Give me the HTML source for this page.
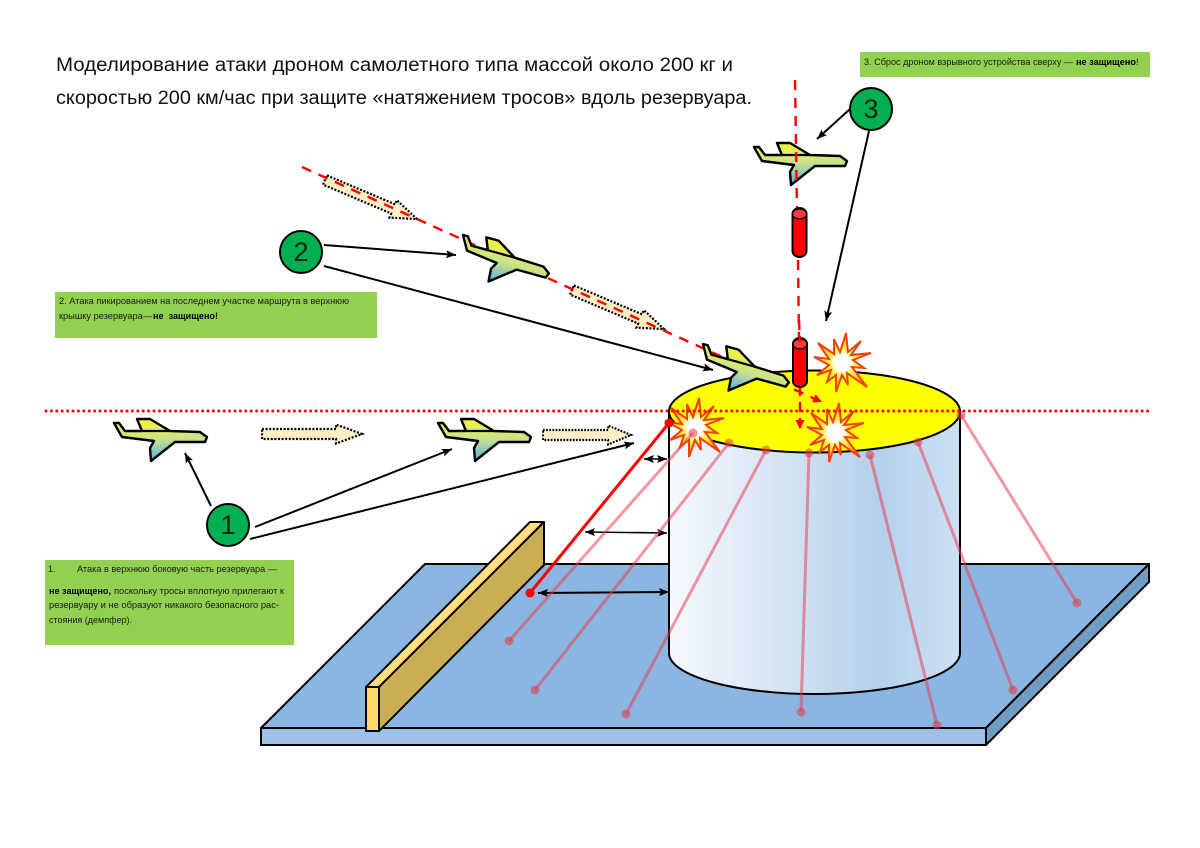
<!DOCTYPE html>
<html><head><meta charset="utf-8"><style>
html,body{margin:0;padding:0;background:#fff;width:1200px;height:848px;overflow:hidden}
svg{display:block}
text{font-family:"Liberation Sans",sans-serif}
.s{font-size:9px;fill:#1a1a1a}
.b{font-size:9px;fill:#000;font-weight:bold}
.t{font-size:19px;fill:#111}
.n{font-size:27px;fill:#0a2a14;text-anchor:middle}
</style></head><body>
<svg width="1200" height="848" viewBox="0 0 1200 848" xmlns="http://www.w3.org/2000/svg">
<defs>
<linearGradient id="pg" x1="0" y1="0" x2="0" y2="1"><stop offset="0" stop-color="#f5f534"/><stop offset=".3" stop-color="#dcea70"/><stop offset=".5" stop-color="#c4e090"/><stop offset=".75" stop-color="#88c8c0"/><stop offset="1" stop-color="#4eaee6"/></linearGradient>
<linearGradient id="cyl" x1="0" y1="0" x2="1" y2="0"><stop offset="0" stop-color="#f6f9fe"/><stop offset=".45" stop-color="#cfe0f2"/><stop offset=".72" stop-color="#b4d0ec"/><stop offset="1" stop-color="#cde0f3"/></linearGradient>
<radialGradient id="st"><stop offset="0" stop-color="#fff"/><stop offset=".27" stop-color="#fff"/><stop offset=".44" stop-color="#fff060"/><stop offset=".7" stop-color="#ffd020"/><stop offset="1" stop-color="#ff9a10"/></radialGradient>
<marker id="a" markerUnits="userSpaceOnUse" markerWidth="12" markerHeight="10" refX="10" refY="4" orient="auto"><path d="M0,0L10,4L0,8L2,4Z" fill="#000"/></marker>
<marker id="as" markerUnits="userSpaceOnUse" markerWidth="12" markerHeight="10" refX="0" refY="4" orient="auto"><path d="M10,0L0,4L10,8L8,4Z" fill="#000"/></marker>
<marker id="ar" markerUnits="userSpaceOnUse" markerWidth="12" markerHeight="12" refX="9" refY="4.5" orient="auto"><path d="M0,0L9,4.5L0,9Z" fill="#f00"/></marker>
<g id="plane"><path d="M0,4L5,4L11,12L28,12L23,0L36,0L56,12L86,13L93,18L91,23L61,23L37,42L36,29L40,22L8,18Z" fill="url(#pg)" stroke="#000" stroke-width="2.4" stroke-linejoin="round"/><path d="M28,12L56,12" stroke="#000" stroke-width="2.2"/></g>
<path id="star" d="M6,-30L8,-11L21,-22L11,-8L31,-10L13,-3L24,5L12,4L27,24L7,10L8,22L2,12L-4,29L-4,12L-13,19L-9,7L-23,12L-11,2L-26,-6L-11,-4L-22,-20L-6,-9L-6,-24L0,-11Z" fill="url(#st)" stroke="#f0420f" stroke-width="2" stroke-linejoin="miter"/>
<path id="da" d="M0,-5L74,-5L74,-9.5L100,0L74,9.5L74,5L0,5Z" fill="#fdeec6" stroke="#000" stroke-width="2.2" stroke-dasharray="2 1.6"/>
</defs>

<!-- platform -->
<path d="M425,564L1149,564L986,728L261,728Z" fill="#8ab6e1" stroke="#000" stroke-width="2" stroke-linejoin="round"/>
<path d="M261,728L986,728L986,745L261,745Z" fill="#9dc1e7" stroke="#000" stroke-width="2" stroke-linejoin="round"/>
<path d="M986,728L1149,564L1149,582L986,745Z" fill="#6f9dc6" stroke="#000" stroke-width="2" stroke-linejoin="round"/>

<!-- wall -->
<path d="M366,687L530,522L544,522L379,687Z" fill="#ffdf7e" stroke="#000" stroke-width="2" stroke-linejoin="round"/>
<path d="M379,687L544,522L544,565L379,731Z" fill="#cbae53" stroke="#000" stroke-width="2" stroke-linejoin="round"/>
<path d="M366,687L379,687L379,731L366,731Z" fill="#ffd966" stroke="#000" stroke-width="2" stroke-linejoin="round"/>

<!-- cylinder -->
<path d="M669,411.5L669,653A145.5,41 0 0 0 960,653L960,411.5Z" fill="url(#cyl)" stroke="#000" stroke-width="2"/>
<ellipse cx="814.5" cy="411.5" rx="145.5" ry="41" fill="#ff0" stroke="#000" stroke-width="2"/>

<!-- double arrows -->
<g stroke="#000" stroke-width="1.6" fill="none">
<path d="M644,459L667,459" marker-start="url(#as)" marker-end="url(#a)"/>
<path d="M585,532L667,533" marker-start="url(#as)" marker-end="url(#a)"/>
<path d="M538,593L669,592" marker-start="url(#as)" marker-end="url(#a)" stroke-width="2"/>
</g>

<!-- dotted arrows -->
<use href="#da" transform="translate(262,434)"/>
<use href="#da" transform="translate(543,435) scale(.88,1)"/>
<use href="#da" transform="translate(325,180) rotate(23)"/>
<use href="#da" transform="translate(572,290) rotate(23)"/>

<!-- diagonal red dashed -->
<path d="M302,167L822,402" stroke="#f00" stroke-width="2.4" stroke-dasharray="10 8" fill="none" marker-end="url(#ar)"/>

<!-- planes -->
<use href="#plane" transform="translate(114,419)"/>
<use href="#plane" transform="translate(438,419)"/>
<use href="#plane" transform="translate(754,143)"/>
<use href="#plane" transform="translate(463,235) rotate(15.5) translate(0,-4)"/>

<!-- stars -->
<use href="#star" transform="translate(840,363)"/>
<use href="#star" transform="translate(693,428)"/>
<use href="#star" transform="translate(833,433)"/>

<use href="#plane" transform="translate(703,344) rotate(15.5) translate(0,-4)"/>

<!-- pink tethers -->
<g stroke="#ea3a48" stroke-opacity=".52" stroke-width="3" fill="none">
<path d="M693,433L509,641"/><path d="M729,443L535,690"/><path d="M766,450L626,714"/><path d="M809,453L801,712"/><path d="M870,455L937,725"/><path d="M918,442L1013,690"/><path d="M961,415L1077,603"/>
</g>
<g fill="#e0384c" fill-opacity=".55">
<circle cx="693" cy="433" r="4.5"/><circle cx="729" cy="443" r="4.5"/><circle cx="766" cy="450" r="4.5"/><circle cx="809" cy="453" r="4.5"/><circle cx="870" cy="455" r="4.5"/><circle cx="918" cy="442" r="4.5"/><circle cx="961" cy="415" r="4.5"/>
<circle cx="509" cy="641" r="4.5"/><circle cx="535" cy="690" r="4.5"/><circle cx="626" cy="714" r="4.5"/><circle cx="801" cy="712" r="4.5"/><circle cx="937" cy="725" r="4.5"/><circle cx="1013" cy="690" r="4.5"/><circle cx="1077" cy="603" r="4.5"/>
</g>

<!-- red tether -->
<path d="M669,423L530,593" stroke="#f00" stroke-width="3"/>
<circle cx="669" cy="423" r="4.5" fill="#f00"/><circle cx="530" cy="593" r="4.5" fill="#f00"/>

<!-- vertical dashed -->
<path d="M795,80L797,210" stroke="#f00" stroke-width="2.4" stroke-dasharray="10 8" fill="none"/>
<path d="M798,260L799,340" stroke="#f00" stroke-width="2.4" stroke-dasharray="10 8" fill="none"/>
<path d="M800,386L800,429" stroke="#f00" stroke-width="2.4" stroke-dasharray="10 6" fill="none" marker-end="url(#ar)"/>

<!-- bombs -->
<g stroke="#000" stroke-width="2">
<path d="M792.5,214A7,6 0 0 1 806.5,214L806.5,251A7,6 0 0 1 792.5,251Z" fill="#f00"/>
<ellipse cx="799.5" cy="214" rx="7" ry="5" fill="#ff3c3c" stroke-width="1.2"/>
<path d="M793,344A7,6 0 0 1 807,344L807,381A7,6 0 0 1 793,381Z" fill="#f00"/>
<ellipse cx="800" cy="344" rx="7" ry="5" fill="#ff3c3c" stroke-width="1.2"/>
</g>
<path d="M799,320L800,342" stroke="#f00" stroke-width="2.4" stroke-dasharray="10 6"/>

<!-- horizontal dotted -->
<path d="M46,411L1150,411" stroke="#f00" stroke-width="3" stroke-linecap="round" stroke-dasharray="0 5.4"/>

<!-- callout arrows -->
<g stroke="#000" stroke-width="2" fill="none">
<path d="M211,506L185,453" marker-end="url(#a)"/>
<path d="M255,527L452,449" marker-end="url(#a)"/>
<path d="M250,539L634,443" marker-end="url(#a)"/>
<path d="M324,245L456,255" marker-end="url(#a)"/>
<path d="M324,266L713,370" marker-end="url(#a)"/>
<path d="M850,109L817,139" marker-end="url(#a)"/>
<path d="M869,131L826,321" marker-end="url(#a)"/>
</g>

<!-- number circles -->
<g fill="#00b050" stroke="#000" stroke-width="2">
<circle cx="228" cy="525" r="21"/><circle cx="301" cy="252" r="21"/><circle cx="871" cy="109" r="21"/>
</g>
<text class="n" x="228" y="534">1</text>
<text class="n" x="301" y="261">2</text>
<text class="n" x="871" y="118">3</text>

<!-- title -->
<text class="t" x="56" y="71" textLength="677" lengthAdjust="spacingAndGlyphs">Моделирование атаки дроном самолетного типа массой около 200 кг и</text>
<text class="t" x="56" y="104" textLength="696" lengthAdjust="spacingAndGlyphs">скоростью 200 км/час при защите «натяжением тросов» вдоль резервуара.</text>

<!-- green boxes -->
<rect x="860" y="52" width="290" height="25" fill="#92d050"/>
<rect x="55" y="292" width="322" height="46" fill="#92d050"/>
<rect x="45" y="560" width="249" height="85" fill="#92d050"/>

<text class="s" x="864" y="65" textLength="209" lengthAdjust="spacingAndGlyphs">3. Сброс дроном взрывного устройства сверху —</text>
<text class="b" x="1076" y="65" textLength="60" lengthAdjust="spacingAndGlyphs">не защищено</text>
<text class="s" x="1136" y="65">!</text>

<text class="s" x="59" y="304" textLength="290" lengthAdjust="spacingAndGlyphs">2. Атака пикированием на последнем участке маршрута в верхнюю</text>
<text class="s" x="59" y="319" textLength="93" lengthAdjust="spacingAndGlyphs">крышку резервуара—</text>
<text class="b" x="153" y="319" textLength="65" lengthAdjust="spacingAndGlyphs" xml:space="preserve">не  защищено!</text>

<text class="s" x="48" y="572">1.</text>
<text class="s" x="77" y="572" textLength="200" lengthAdjust="spacingAndGlyphs">Атака в верхнюю боковую часть резервуара —</text>
<text class="b" x="49" y="594" textLength="62" lengthAdjust="spacingAndGlyphs">не защищено,</text>
<text class="s" x="114" y="594" textLength="170" lengthAdjust="spacingAndGlyphs">поскольку тросы вплотную прилегают к</text>
<text class="s" x="49" y="608" textLength="230" lengthAdjust="spacingAndGlyphs">резервуару и не образуют никакого безопасного рас-</text>
<text class="s" x="49" y="623" textLength="83" lengthAdjust="spacingAndGlyphs">стояния (демпфер).</text>
</svg>
</body></html>
